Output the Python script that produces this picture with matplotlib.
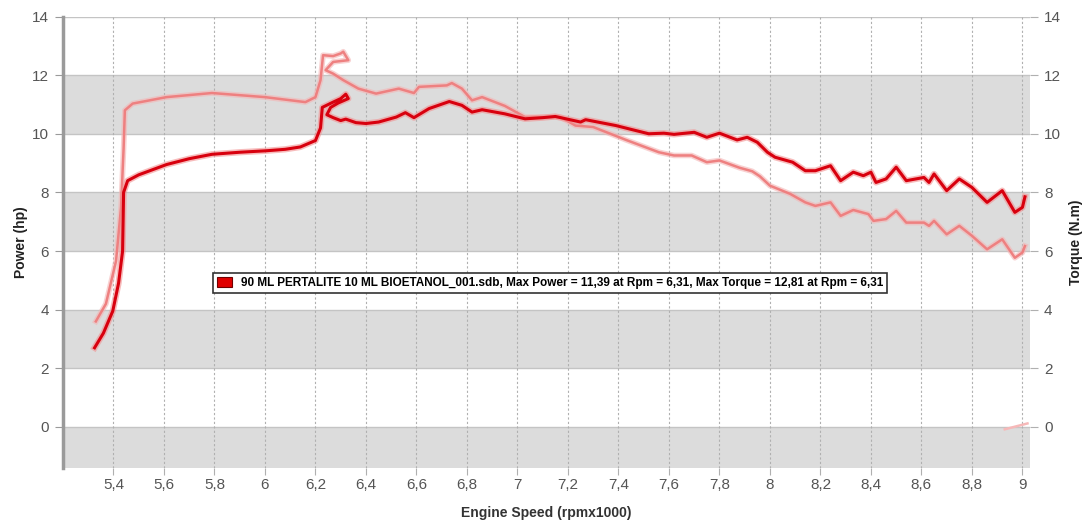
import matplotlib.pyplot as plt
from matplotlib.patches import Patch

# dyno run (rpm x1000)
power_rpm = [5.325, 5.36, 5.397, 5.42, 5.436, 5.44, 5.456, 5.50, 5.61, 5.70,
             5.79, 5.90, 6.005, 6.08, 6.14, 6.20, 6.22, 6.227, 6.27, 6.30,
             6.32, 6.33, 6.29, 6.26, 6.245, 6.27, 6.30, 6.32, 6.36, 6.40,
             6.45, 6.52, 6.556, 6.59, 6.65, 6.73, 6.78, 6.82, 6.86, 6.95,
             7.03, 7.10, 7.15, 7.25, 7.27, 7.39, 7.45, 7.52, 7.58, 7.62,
             7.70, 7.75, 7.80, 7.87, 7.91, 7.95, 7.99, 8.02, 8.09, 8.14,
             8.18, 8.24, 8.28, 8.33, 8.37, 8.40, 8.42, 8.46, 8.50, 8.54,
             8.61, 8.63, 8.65, 8.70, 8.75, 8.80, 8.86, 8.92, 8.97, 9.00,
             9.01]
power_hp = [2.7, 3.2, 3.95, 4.9, 6.0, 8.0, 8.4, 8.6, 8.95, 9.15,
            9.3, 9.37, 9.42, 9.47, 9.55, 9.77, 10.2, 10.9, 11.08, 11.2,
            11.35, 11.2, 11.05, 10.9, 10.65, 10.55, 10.45, 10.5, 10.38, 10.35,
            10.4, 10.57, 10.72, 10.55, 10.86, 11.1, 10.97, 10.74, 10.82, 10.68,
            10.51, 10.55, 10.59, 10.4, 10.48, 10.28, 10.15, 10.0, 10.02, 9.98,
            10.05, 9.88, 10.02, 9.79, 9.88, 9.71, 9.37, 9.2, 9.03, 8.74,
            8.74, 8.91, 8.4, 8.69, 8.57, 8.69, 8.34, 8.46, 8.86, 8.4,
            8.51, 8.34, 8.63, 8.06, 8.46, 8.17, 7.66, 8.06, 7.32, 7.49,
            7.85]

torque_rpm = [5.33, 5.37, 5.41, 5.43, 5.44, 5.445, 5.476, 5.61, 5.79, 6.0,
              6.16, 6.20, 6.22, 6.23, 6.27, 6.30, 6.31, 6.33, 6.27, 6.24,
              6.27, 6.31, 6.37, 6.44, 6.53, 6.59, 6.61, 6.72, 6.74, 6.78,
              6.82, 6.86, 6.95, 7.03, 7.17, 7.23, 7.30, 7.43, 7.56, 7.62,
              7.69, 7.75, 7.80, 7.88, 7.93, 7.96, 8.0, 8.08, 8.14, 8.18,
              8.24, 8.28, 8.33, 8.39, 8.41, 8.46, 8.50, 8.54, 8.61, 8.63,
              8.65, 8.70, 8.75, 8.80, 8.86, 8.92, 8.97, 9.0, 9.01]
torque_nm = [3.6, 4.2, 5.66, 7.5, 9.5, 10.8, 11.03, 11.25, 11.39, 11.25,
             11.08, 11.25, 11.83, 12.68, 12.65, 12.74, 12.8, 12.51, 12.45, 12.17,
             12.05, 11.83, 11.54, 11.37, 11.54, 11.39, 11.6, 11.65, 11.73, 11.54,
             11.14, 11.25, 10.95, 10.57, 10.57, 10.28, 10.23, 9.79, 9.37, 9.26,
             9.26, 9.03, 9.09, 8.84, 8.72, 8.55, 8.23, 7.95, 7.66, 7.54,
             7.66, 7.2, 7.4, 7.26, 7.03, 7.09, 7.37, 6.97, 6.97, 6.86,
             7.03, 6.57, 6.86, 6.52, 6.06, 6.40, 5.77, 5.95, 6.17]

# stray bit of torque trace near zero at the end of the run
tail_rpm = [8.93, 9.02]
tail_nm = [-0.08, 0.12]

x_ticks = [5.4, 5.6, 5.8, 6.0, 6.2, 6.4, 6.6, 6.8, 7.0, 7.2, 7.4, 7.6, 7.8,
           8.0, 8.2, 8.4, 8.6, 8.8, 9.0]
x_labels = ['5,4', '5,6', '5,8', '6', '6,2', '6,4', '6,6', '6,8', '7', '7,2',
            '7,4', '7,6', '7,8', '8', '8,2', '8,4', '8,6', '8,8', '9']
y_ticks = [0, 2, 4, 6, 8, 10, 12, 14]

legend_text = ('90 ML PERTALITE 10 ML BIOETANOL_001.sdb, Max Power = 11,39 at Rpm = 6,31, '
               'Max Torque = 12,81 at Rpm = 6,31')

plt.rcParams['font.family'] = ['Liberation Sans', 'DejaVu Sans']

fig = plt.figure(figsize=(10.82, 5.23), dpi=100)
ax = fig.add_axes([63 / 1082, 1 - 468 / 523, 967 / 1082, 451.5 / 523])
ax2 = ax.twinx()

ymin, ymax = -1.4, 14.0
ax.set_xlim(5.2, 9.03)
ax.set_ylim(ymin, ymax)
ax2.set_ylim(ymin, ymax)

# grey bands every other 2 units
for lo in [-2, 2, 6, 10]:
    ax.axhspan(lo, lo + 2, color='#dcdcdc', lw=0, zorder=0)
for yv in y_ticks:
    ax.axhline(yv, color='#c4c4c4', lw=1, zorder=0.5)

ax.set_xticks(x_ticks)
ax.set_xticklabels(x_labels)
ax.grid(axis='x', color='#b0b0b0', lw=0.8, linestyle=(0, (2, 2)))
ax.set_axisbelow(True)
ax.set_yticks(y_ticks)
ax2.set_yticks(y_ticks)

for a in (ax, ax2):
    for s in ['top', 'right', 'bottom', 'left']:
        a.spines[s].set_visible(False)
ax.spines['left'].set_visible(True)
ax.spines['left'].set_color('#9a9a9a')
ax.spines['left'].set_linewidth(2.5)

ax.tick_params(axis='x', length=5, color='#b0b0b0', labelsize=11, labelcolor='#555555', pad=2)
ax.tick_params(axis='y', length=6, color='#9a9a9a', labelsize=11, labelcolor='#555555', pad=4)
ax2.tick_params(axis='y', length=6, color='#b0b0b0', labelsize=11, labelcolor='#555555', pad=4)

ax.plot(torque_rpm, torque_nm, color='#f4b4b4', lw=4, alpha=0.6, zorder=3)
ax.plot(torque_rpm, torque_nm, color='#ee8080', lw=1.8, zorder=3)
ax.plot(tail_rpm, tail_nm, color='#f6b8b8', lw=1.8, zorder=3)
ax.plot(power_rpm, power_hp, color='#f29090', lw=4.5, alpha=0.6, zorder=4)
ax.plot(power_rpm, power_hp, color='#d8000e', lw=2.2, zorder=4)

ax.set_xlabel('Engine Speed (rpmx1000)', fontsize=10, fontweight='bold', color='#333333', labelpad=10)
ax.set_ylabel('Power (hp)', fontsize=10, fontweight='bold', color='#222222', labelpad=3)
ax2.set_ylabel('Torque (N.m)', fontsize=10, fontweight='bold', color='#222222', labelpad=6)

handle = Patch(facecolor='#e00000', edgecolor='#700000', lw=0.8)
leg = ax.legend([handle], [legend_text], loc='center', bbox_to_anchor=(0.504, 0.41),
                fancybox=False, framealpha=1, edgecolor='#333333', handlelength=1.2,
                handleheight=0.9, handletextpad=0.8, borderpad=0.35,
                prop={'family': ['Liberation Sans Narrow', 'Liberation Sans'],
                      'weight': 'bold', 'size': 8.5})
leg.get_frame().set_linewidth(1.2)
leg.set_zorder(10)

fig.savefig('out.png', dpi=100)
